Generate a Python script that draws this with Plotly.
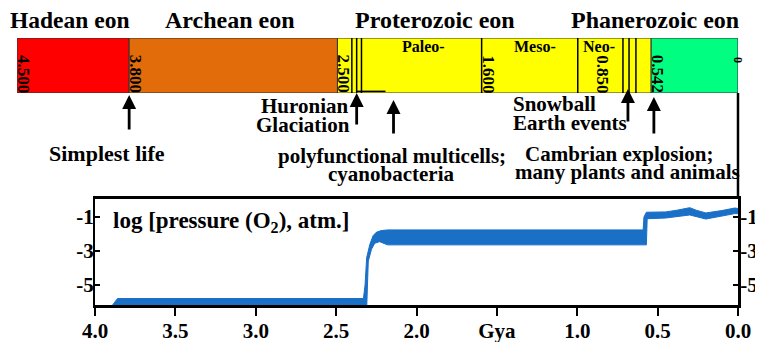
import plotly.graph_objects as go

# ---------------- data ----------------
eon_names = ["Hadean eon", "Archean eon", "Proterozoic eon", "Phanerozoic eon"]
eon_start = [4.5, 3.8, 2.5, 0.542]
eon_end = [3.8, 2.5, 0.542, 0.0]
eon_colors = ["#ff0000", "#e36c0a", "#ffff00", "#00ff80"]

era_names = ["Paleo-", "Meso-", "Neo-"]
era_lines = [1.6, 1.0]
glaciation_lines = [2.41, 2.38, 2.35]
snowball_lines = [0.718, 0.68, 0.637]

bar_tick_vals = [4.5, 3.8, 2.5, 1.6, 0.85, 0.542]
bar_tick_text = ["4.500", "3.800", "2.500", "1.600", "0.850", "0.542"]

# O2 band outline (age in Gya, log10 pO2 in atm)
upper_age = [3.90, 3.86, 2.33, 2.32, 2.31, 2.29, 2.27, 2.25, 2.22, 2.18, 0.59, 0.585,
             0.57, 0.45, 0.38, 0.30, 0.26, 0.20, 0.10, 0.02, 0.0]
upper_o2 = [-6.3, -5.8, -5.8, -5.0, -3.4, -2.6, -2.1, -1.9, -1.8, -1.76, -1.76, -1.0,
            -0.72, -0.70, -0.60, -0.45, -0.60, -0.76, -0.62, -0.47, -0.50]
lower_age = [3.92, 2.31, 2.30, 2.28, 2.26, 2.23, 2.18, 0.57, 0.565, 0.45, 0.30, 0.20,
             0.10, 0.02, 0.0]
lower_o2 = [-6.4, -6.4, -3.6, -2.9, -2.55, -2.45, -2.64, -2.64, -1.1, -1.06, -0.88, -1.12,
            -0.95, -0.80, -0.80]

x_tick_vals = [4.0, 3.5, 3.0, 2.5, 2.0, 1.5, 1.0, 0.5, 0.0]
x_tick_text = ["4.0", "3.5", "3.0", "2.5", "2.0", "Gya", "1.0", "0.5", "0.0"]
y_tick_vals = [-1, -3, -5]
y_tick_text = ["-1", "-3", "-5"]

# ---------------- layout helpers ----------------
# The page body has an 8px default margin, so the figure is made 8px smaller
# and all window-pixel positions are shifted by that offset.
OFF = 8
W, H = 763 - OFF, 342 - OFF
def px(x): return (x - OFF) / W
def py(y): return 1 - (y - OFF) / H

FONT = "Liberation Serif, Times New Roman, serif"
BLUE = "#1a6fc6"
AX_FONT = dict(family=FONT, size=21, weight="bold", color="black")

fig = go.Figure()

fig.add_trace(go.Bar(
    y=[0] * len(eon_start), x=[s - e for s, e in zip(eon_start, eon_end)], base=eon_end,
    orientation="h", width=1, marker=dict(color=eon_colors, line=dict(color="#333333", width=1)),
    xaxis="x", yaxis="y", showlegend=False, hoverinfo="skip"))

lx, ly = [], []
for v in era_lines + glaciation_lines + snowball_lines:
    lx += [v, v, None]
    ly += [-0.5, 0.5, None]
lx += [glaciation_lines[1], 2.2]
ly += [-0.47, -0.47]
fig.add_trace(go.Scatter(x=lx, y=ly, mode="lines", line=dict(color="black", width=1.5),
                         xaxis="x", yaxis="y", showlegend=False, hoverinfo="skip"))

fig.add_trace(go.Scatter(
    x=upper_age + lower_age[::-1], y=upper_o2 + lower_o2[::-1], fill="toself",
    fillcolor=BLUE, line=dict(color=BLUE, width=1), mode="lines",
    xaxis="x2", yaxis="y2", showlegend=False, hoverinfo="skip"))
fig.add_trace(go.Scatter(x=[None], y=[None], xaxis="x2", yaxis="y3", showlegend=False))

fig.update_layout(
    width=W, height=H, margin=dict(l=0, r=0, t=0, b=0, pad=0, autoexpand=False),
    autosize=False,
    paper_bgcolor="white", plot_bgcolor="rgba(0,0,0,0)",
    font=dict(family=FONT, size=20, color="black", weight="bold"),
    barmode="overlay", showlegend=False,
    xaxis=dict(domain=[px(17), px(738)], range=[4.5, 0], visible=False, anchor="y",
               automargin=False),
    yaxis=dict(domain=[py(93), py(38)], range=[-0.5, 0.5], visible=False, anchor="x",
               automargin=False),
    xaxis2=dict(domain=[px(95), px(738)], range=[4.0, 0.0], anchor="y2", automargin=False,
                showline=True, linewidth=2.5, linecolor="black", mirror=True,
                ticks="outside", ticklen=8, tickwidth=2, tickcolor="black",
                ticklabelstandoff=-3,
                tickvals=x_tick_vals, ticktext=x_tick_text, showgrid=False, zeroline=False,
                tickfont=AX_FONT),
    yaxis2=dict(domain=[py(305), py(199)], range=[-6.18, 0.06], anchor="x2", automargin=False,
                showline=True, linewidth=2, linecolor="black", mirror=False,
                ticks="inside", ticklen=5, tickwidth=1.5, tickcolor="black",
                ticklabelstandoff=-5,
                tickvals=y_tick_vals, ticktext=y_tick_text, showgrid=False, zeroline=False,
                tickfont=AX_FONT),
    yaxis3=dict(overlaying="y2", side="right", anchor="x2", range=[-6.18, 0.06],
                automargin=False,
                showline=True, linewidth=3, linecolor="black",
                ticks="inside", ticklen=5, tickwidth=1.5, tickcolor="black",
                ticklabelstandoff=-5,
                tickvals=y_tick_vals, ticktext=y_tick_text, showgrid=False, zeroline=False,
                tickfont=AX_FONT),
)

fig.add_shape(type="line", xref="paper", yref="paper", x0=px(738), x1=px(738),
              y0=py(93), y1=py(199), line=dict(color="black", width=2.5))

ann = []
for name, cx, fs in zip(eon_names, [69, 229.5, 435, 655], [23.5, 24, 24, 24]):
    ann.append(dict(text=name, x=px(cx), y=py(20), xref="paper", yref="paper",
                    showarrow=False, xanchor="center", yanchor="middle",
                    font=dict(size=fs)))
for name, cx in zip(era_names, [423.5, 535, 599]):
    ann.append(dict(text=name, x=px(cx), y=py(47), xref="paper", yref="paper",
                    showarrow=False, xanchor="center", yanchor="middle",
                    font=dict(size=16)))
for v, t in zip(bar_tick_vals, bar_tick_text):
    ann.append(dict(text=t, x=v, y=py(74), xref="x", yref="paper", xshift=1 if v == 0.85 else 7,
                    showarrow=False, textangle=90, xanchor="center", yanchor="middle",
                    font=dict(size=17)))
ann.append(dict(text="0", x=0, y=py(60), xref="x", yref="paper", showarrow=False,
                textangle=90, xanchor="center", yanchor="middle", font=dict(size=12)))

for age, tip, tail in [(3.8, 95, 131), (2.38, 93, 126), (2.15, 100, 135),
                       (0.687, 89, 123), (0.525, 97, 135)]:
    ann.append(dict(text="", x=age, y=py(tip), xref="x", yref="paper", ax=0, ay=tail - tip,
                    showarrow=True, arrowhead=2, arrowsize=1, arrowwidth=2.8, arrowcolor="black"))

def note(t, x, y, anchor="center", size=21):
    ann.append(dict(text=t, x=px(x), y=py(y), xref="paper", yref="paper", showarrow=False,
                    xanchor=anchor, yanchor="middle", font=dict(size=size)))

note("Simplest life", 107, 153, size=22)
note("Huronian", 304, 106)
note("Glaciation", 302.5, 125)
note("polyfunctional multicells;", 392, 156)
note("cyanobacteria", 391, 174)
note("Snowball", 511, 104, "left")
note("Earth events", 511, 123, "left")
note("Cambrian explosion;", 619, 154)
note("many plants and animals", 627, 172)
note("log [pressure (O<sub>2</sub>), atm.]", 111, 222, "left", size=23)

fig.update_layout(annotations=ann)
fig.write_html("out.html")
